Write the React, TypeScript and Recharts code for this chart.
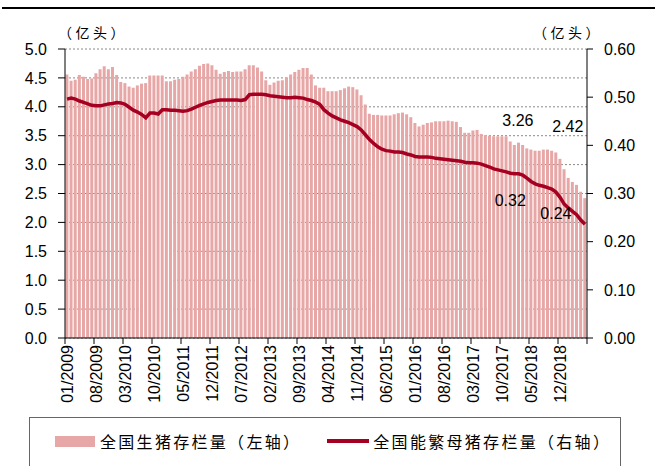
import { Bar, CartesianGrid, ComposedChart, LabelList, Line, XAxis, YAxis } from 'recharts'

const firstYear = 2009
const monthCount = 126
const months = Array.from({ length: monthCount }, (_, i) =>
  `${String((i % 12) + 1).padStart(2, '0')}/${firstYear + Math.floor(i / 12)}`)

// 全国生猪存栏量（亿头）
const hogStock = [
  4.56, 4.45, 4.47, 4.55, 4.52, 4.48, 4.49, 4.58, 4.65, 4.70, 4.65, 4.69,
  4.55, 4.43, 4.41, 4.35, 4.33, 4.37, 4.40, 4.41, 4.54, 4.54, 4.54, 4.54,
  4.44, 4.44, 4.47, 4.48, 4.52, 4.56, 4.61, 4.65, 4.71, 4.74, 4.75, 4.72,
  4.64, 4.57, 4.60, 4.62, 4.60, 4.61, 4.61, 4.65, 4.72, 4.72, 4.68, 4.61,
  4.46, 4.38, 4.42, 4.45, 4.46, 4.51, 4.56, 4.60, 4.64, 4.67, 4.67, 4.56,
  4.37, 4.33, 4.33, 4.27, 4.27, 4.27, 4.29, 4.32, 4.35, 4.34, 4.30, 4.20,
  4.04, 3.88, 3.86, 3.86, 3.85, 3.85, 3.85, 3.87, 3.89, 3.90, 3.87, 3.82,
  3.72, 3.66, 3.69, 3.72, 3.73, 3.75, 3.75, 3.75, 3.76, 3.75, 3.74, 3.65,
  3.55, 3.55, 3.59, 3.60, 3.53, 3.51, 3.50, 3.49, 3.49, 3.49, 3.49, 3.40,
  3.34, 3.38, 3.34, 3.28, 3.26, 3.24, 3.24, 3.26, 3.26, 3.24, 3.21, 3.10,
  2.92, 2.77, 2.70, 2.65, 2.53, 2.42,
]

// 全国能繁母猪存栏量（亿头）
const sowStock = [
  0.496, 0.498, 0.496, 0.492, 0.489, 0.486, 0.483, 0.482, 0.482, 0.484, 0.486, 0.487,
  0.489, 0.488, 0.485, 0.479, 0.473, 0.469, 0.464, 0.457, 0.467, 0.467, 0.465, 0.474,
  0.474, 0.473, 0.473, 0.472, 0.471, 0.472, 0.475, 0.479, 0.483, 0.486, 0.489, 0.491,
  0.493, 0.494, 0.494, 0.494, 0.494, 0.494, 0.493, 0.495, 0.505, 0.506, 0.506, 0.506,
  0.505, 0.503, 0.502, 0.501, 0.500, 0.499, 0.499, 0.500, 0.499, 0.498, 0.495, 0.493,
  0.490, 0.485, 0.474, 0.467, 0.461, 0.457, 0.453, 0.450, 0.447, 0.443, 0.439, 0.432,
  0.422, 0.412, 0.404, 0.397, 0.392, 0.389, 0.388, 0.386, 0.386, 0.385, 0.382, 0.380,
  0.377, 0.376, 0.376, 0.376, 0.375, 0.373, 0.372, 0.371, 0.370, 0.369, 0.368, 0.367,
  0.365, 0.364, 0.364, 0.363, 0.361, 0.358, 0.355, 0.351, 0.349, 0.347, 0.345, 0.342,
  0.341, 0.341, 0.338, 0.332, 0.325, 0.320, 0.317, 0.315, 0.312, 0.309, 0.303, 0.292,
  0.278, 0.270, 0.263, 0.256, 0.245, 0.236,
]

const monthTicks = [
  '01/2009', '08/2009', '03/2010', '10/2010', '05/2011', '12/2011', '07/2012', '02/2013', '09/2013',
  '04/2014', '11/2014', '06/2015', '01/2016', '08/2016', '03/2017', '10/2017', '05/2018', '12/2018',
]
const leftTicks = [0, 0.5, 1, 1.5, 2, 2.5, 3, 3.5, 4, 4.5, 5]
const rightTicks = [0, 0.1, 0.2, 0.3, 0.4, 0.5, 0.6]

const data = months.map((month, i) => ({ month, hog: hogStock[i], sow: sowStock[i] }))

const axisFont = '"Liberation Sans", Arial, sans-serif'
const cjkFont = '"Noto Sans CJK SC", sans-serif'
const barColor = '#E8A7A7'
const lineColor = '#A50021'
const band = 522 / monthCount

// hand-placed value notes, like the moved Excel labels
const hogNotes: Record<number, [number, number]> = { 112: [-13, -29], 125: [-17, -72] }
const sowNotes: Record<number, [number, number]> = { 113: [-25, 17], 125: [-29, -11] }

function MonthTick(props: any) {
  const { x, y, payload } = props
  const last = payload.value === months[monthCount - 1]
  const edge = last ? x + band / 2 : x - band / 2
  return (
    <g>
      <line x1={edge} x2={edge} y1={y - 7} y2={y - 1} stroke="#000" />
      {!last && (
        <text
          x={x}
          y={y}
          transform={`rotate(-90 ${x} ${y})`}
          textAnchor="end"
          dominantBaseline="central"
          fontSize={16}
          fontFamily={axisFont}
          fill="#000"
        >
          {payload.value}
        </text>
      )}
    </g>
  )
}

function Note(notes: Record<number, [number, number]>, isBar: boolean) {
  return (props: any) => {
    const { x, y, width, value, index } = props
    const n = notes[index]
    if (!n) return null
    const cx = isBar ? Number(x) + Number(width) / 2 : Number(x)
    return (
      <text
        x={cx + n[0]}
        y={Number(y) + n[1]}
        textAnchor="middle"
        dominantBaseline="central"
        fontSize={16}
        fontFamily={axisFont}
        fill="#000"
      >
        {Number(value).toFixed(2)}
      </text>
    )
  }
}

export default function App() {
  const unitStyle = { position: 'absolute' as const, top: 22, fontFamily: cjkFont, fontSize: 14, lineHeight: '20px', letterSpacing: 3.5 }
  return (
    <div style={{ position: 'absolute', left: 0, top: 0, width: 657, height: 466, overflow: 'hidden', background: '#fff' }}>
      <div style={{ position: 'absolute', left: 2, top: 7, width: 653, height: 2, background: '#000' }} />
      <div style={{ ...unitStyle, left: 58 }}>（亿头）</div>
      <div style={{ ...unitStyle, left: 533 }}>（亿头）</div>

      <ComposedChart width={657} height={466} data={data} margin={{ top: 49, right: 0, bottom: 48, left: 0 }}>
        <XAxis
          dataKey="month"
          height={80}
          ticks={[...monthTicks, months[monthCount - 1]]}
          interval={0}
          tickSize={6}
          tickMargin={1}
          tickLine={false}
          axisLine={{ stroke: '#000' }}
          tick={<MonthTick />}
        />
        <YAxis
          yAxisId="left"
          orientation="left"
          width={65}
          domain={[0, 5]}
          ticks={leftTicks}
          interval={0}
          tickFormatter={(v: number) => v.toFixed(1)}
          tickSize={7}
          tickMargin={11}
          axisLine={{ stroke: '#000' }}
          tickLine={{ stroke: '#000' }}
          tick={{ fill: '#000', fontSize: 16, fontFamily: axisFont }}
        />
        <YAxis
          yAxisId="right"
          orientation="right"
          width={70}
          domain={[0, 0.6]}
          ticks={rightTicks}
          interval={0}
          tickFormatter={(v: number) => v.toFixed(2)}
          tickSize={6}
          tickMargin={11}
          axisLine={{ stroke: '#000' }}
          tickLine={{ stroke: '#000' }}
          tick={{ fill: '#000', fontSize: 16, fontFamily: axisFont, textAnchor: 'start' }}
        />
        <Bar yAxisId="left" dataKey="hog" fill={barColor} isAnimationActive={false}>
          <LabelList dataKey="hog" content={Note(hogNotes, true)} />
        </Bar>
        <CartesianGrid yAxisId="left" vertical={false} stroke="#8a8a8a" strokeDasharray="2 2" />
        <Line
          yAxisId="right"
          type="linear"
          dataKey="sow"
          stroke={lineColor}
          strokeWidth={3.5}
          dot={false}
          isAnimationActive={false}
        >
          <LabelList dataKey="sow" content={Note(sowNotes, false)} />
        </Line>
      </ComposedChart>

      <div
        style={{
          position: 'absolute', left: 29, top: 417, width: 592, height: 80,
          border: '1px solid #666', boxSizing: 'border-box',
        }}
      />
      <div style={{ position: 'absolute', left: 55, top: 430, display: 'flex', alignItems: 'center', fontFamily: cjkFont, fontSize: 16, letterSpacing: 2.3, lineHeight: '22px' }}>
        <span style={{ display: 'inline-block', width: 40, height: 11, background: barColor, marginRight: 5 }} />
        <span>全国生猪存栏量（左轴）</span>
        <span style={{ display: 'inline-block', width: 42, height: 4, background: lineColor, marginLeft: 26, marginRight: 4 }} />
        <span>全国能繁母猪存栏量（右轴）</span>
      </div>
    </div>
  )
}
